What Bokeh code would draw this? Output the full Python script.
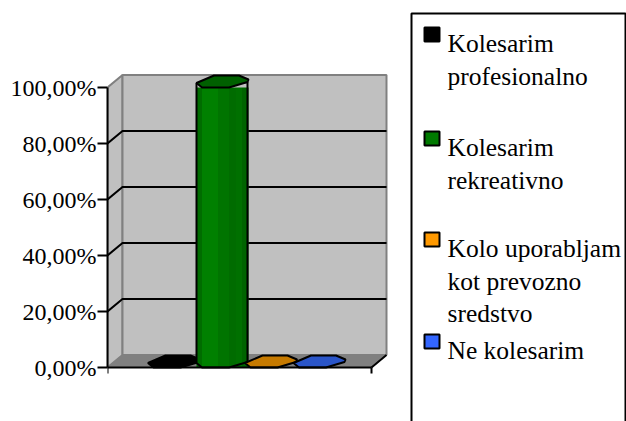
from bokeh.plotting import figure
from bokeh.models import Range1d, FixedTicker
from bokeh.core.properties import value
from bokeh.embed import file_html
from bokeh.resources import INLINE

# ---- data ----
categories = ["Kolesarim profesionalno", "Kolesarim rekreativno",
              "Kolo uporabljam kot prevozno sredstvo", "Ne kolesarim"]
values = [0, 100, 0, 0]
legend_lines = [["Kolesarim", "profesionalno"], ["Kolesarim", "rekreativno"],
                ["Kolo uporabljam", "kot prevozno", "sredstvo"], ["Ne kolesarim"]]
tick_values = [0, 20, 40, 60, 80, 100]
tick_labels = ["0,00%", "20,00%", "40,00%", "60,00%", "80,00%", "100,00%"]
top_colors = ["#000000", "#006000", "#C67A00", "#2A55C8"]
legend_colors = ["#000000", "#007A00", "#FF9900", "#3366FF"]

# ---- layout (page pixels) ----
FONT = "Liberation Serif"
PAGE_W, PAGE_H = 626, 421
LEFT, RIGHT = 107, 371
Y0, PX_PER_PCT = 367, 2.8
CX0, PX_PER_CAT = 173, 48.5
DX, DY = 15, 12.5
ux = lambda px: px / PX_PER_CAT          # px -> category units
uy = lambda px: px / PX_PER_PCT          # px -> percent units
lx = lambda px: ux(px - CX0)             # page x -> data
ly = lambda py: uy(Y0 - py)              # page y -> data
XL, XR = lx(LEFT), lx(RIGHT)
GRAY = "#C0C0C0"
DARK = "#808080"

p = figure(width=PAGE_W, height=PAGE_H, output_backend="svg", toolbar_location=None,
           x_range=Range1d(lx(LEFT), lx(PAGE_W)),
           y_range=Range1d(ly(PAGE_H), ly(0)),
           min_border_left=LEFT, min_border_right=0, min_border_top=0,
           min_border_bottom=0, outline_line_color=None, background_fill_color="white")
p.grid.visible = False

ddx, ddy = ux(DX), uy(DY)
# walls and floor
p.patch([XL, XL + ddx, XL + ddx, XL], [0, ddy, 100 + ddy, 100], fill_color=GRAY, line_color=DARK, line_width=2)
p.patch([XL + ddx, XR + ddx, XR + ddx, XL + ddx], [ddy, ddy, 100 + ddy, 100 + ddy],
        fill_color=GRAY, line_color=DARK, line_width=2)
p.patch([XL, XL + ddx, XR + ddx, XR], [0, ddy, ddy, 0], fill_color=DARK, line_color=DARK, line_width=1)
# gridlines
for t in tick_values[1:-1]:
    p.line([XL, XL + ddx, XR + ddx], [t, t + ddy, t + ddy], line_color="black", line_width=2)
p.line([XR, XR + ddx], [0, ddy], line_color="black", line_width=2)

# cylinders (flattened octagons)
top_dx = [-25.5, -20, 7, 25.5, 26.5, 17, -8]
top_dy = [4.5, 0, 0, 5.5, 8, 12, 12]
strips = [(-25.5, -20, "#006C00"), (-20, -4, "#008000"), (-4, 7, "#007400"),
          (7, 14, "#006C00"), (14, 20, "#007000"), (20, 26.5, "#006400")]
for i, v in enumerate(values):
    if v > 0:
        for a, b, c in strips:
            p.quad(left=i + ux(a), right=i + ux(b), bottom=0, top=v, fill_color=c, line_color=None)
        xs = [i + ux(d) for d in top_dx[:4]]
        p.patch([xs[0]] + xs + [xs[3], xs[0]],
                [v + uy(top_dy[0])] + [uy(top_dy[k]) for k in range(4)] + [v + uy(top_dy[3]), v + uy(top_dy[0])],
                fill_alpha=0, line_color="black", line_width=2)
    p.patch([i + ux(d) for d in top_dx], [v + uy(d) for d in top_dy],
            fill_color=top_colors[i], line_color="black", line_width=2)

# axes
ya = p.yaxis[0]
ya.ticker = FixedTicker(ticks=tick_values)
ya.major_label_overrides = dict(zip(tick_values, tick_labels))
ya.bounds = (0, 100)
ya.major_label_text_font = FONT
ya.major_label_text_font_size = "24px"
ya.major_label_text_color = "black"
ya.major_label_standoff = 1
ya.major_tick_out = 10
ya.major_tick_in = 0
ya.minor_tick_line_color = None
ya.axis_line_width = 2
ya.major_tick_line_width = 2

xa = p.xaxis[0]
xa.fixed_location = 0
xa.ticker = FixedTicker(ticks=[XL, XR])
xa.bounds = (XL, XR)
xa.major_label_text_font_size = "0px"
xa.major_label_overrides = {XL: "", XR: ""}
xa.major_label_standoff = 0
xa.major_tick_out = 6
xa.major_tick_in = 0
xa.minor_tick_line_color = None
xa.axis_line_width = 2
xa.major_tick_line_width = 2

# legend panel
p.line([lx(411), lx(411), lx(625), lx(625)], [ly(PAGE_H), ly(13), ly(13), ly(PAGE_H)],
       line_color="black", line_width=2)

line_pitch = 32.5
first_baselines = [43, 147, 248, 350]
for name, lines, base, color in zip(categories, legend_lines, first_baselines, legend_colors):
    p.quad(left=lx(424), right=lx(439), top=ly(base - 16), bottom=ly(base - 2), fill_color=color,
           line_color="black", line_width=2)
    p.text(x=[lx(447)] * len(lines), y=[ly(base + k * line_pitch) for k in range(len(lines))], text=lines,
           text_font=value(FONT), text_font_size=value("25.5px"), text_color="black",
           text_baseline="alphabetic", text_align="left")

open("out.html", "w").write(file_html(p, INLINE))
